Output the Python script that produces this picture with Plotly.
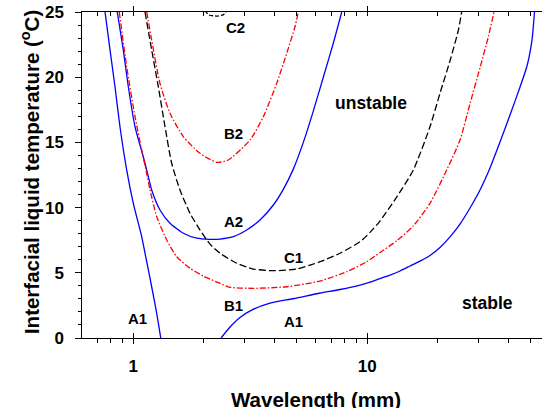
import numpy as np
import plotly.graph_objects as go

# ---------------- data (wavelength in mm, temperature in degC) ----------------
A1_left_x = [0.757, 0.795, 0.835, 0.877, 0.937, 1.0, 1.086, 1.122, 1.198, 1.259, 1.31]
A1_left_y = [25, 22.09, 19.27, 16.2, 12.88, 10.33, 7.77, 6.5, 3.93, 1.89, 0]

A1_right_x = [2.371, 2.59, 2.858, 3.247, 3.839, 4.862, 6.281, 7.643, 9.307, 10.27, 11.33, 12.50,
              13.79, 15.22, 16.80, 18.53, 20.45, 22.56, 24.90, 27.48, 30.31, 33.45, 36.91,
              40.73, 44.95, 48.14, 50.56, 51.83]
A1_right_y = [0, 0.84, 1.57, 2.19, 2.68, 3.03, 3.45, 3.72, 4.06, 4.29, 4.56, 4.83,
              5.14, 5.52, 5.90, 6.33, 6.94, 7.75, 8.74, 9.97, 11.35, 13.04, 15.03,
              17.10, 19.25, 20.86, 22.85, 25]

A2_x = [0.854, 0.906, 0.952, 1.017, 1.103, 1.141, 1.198, 1.300, 1.435, 1.636, 1.866, 2.127,
        2.347, 2.676, 3.052, 3.479, 3.967, 4.376, 4.828, 5.328, 5.877, 6.486, 7.155, 7.775]
A2_y = [25, 22.09, 19.27, 16.2, 13.9, 12.88, 11.35, 9.82, 8.80, 8.03, 7.65, 7.57,
        7.59, 7.77, 8.28, 9.05, 10.2, 11.4, 12.95, 15.0, 17.4, 20.0, 22.6, 25]

B1_x = [0.871, 0.937, 1.017, 1.086, 1.133, 1.179, 1.259, 1.389, 1.533, 1.747, 1.991, 2.347,
        2.590, 3.257, 4.524, 6.28, 8.17, 9.94, 11.33, 13.35, 15.73, 18.53, 21.84, 24.9,
        27.5, 30.3, 32.9, 34.8]
B1_y = [25, 20.8, 16.97, 14.42, 12.88, 11.35, 9.30, 7.52, 6.23, 5.35, 4.75, 4.19,
        3.89, 3.81, 3.93, 4.37, 5.08, 5.85, 6.55, 7.45, 8.6, 10.33, 12.88, 15.18,
        18.0, 20.7, 23.1, 25]

B2_x = [1.141, 1.198, 1.300, 1.435, 1.636, 1.928, 2.272, 2.547, 3.153, 3.594, 4.101, 4.524, 4.909, 5.07]
B2_y = [25, 22.85, 19.53, 17.23, 15.44, 14.16, 13.47, 13.65, 15.18, 16.97, 19.53, 21.83, 23.87, 25]

C1_x = [1.122, 1.198, 1.279, 1.366, 1.459, 1.583, 1.747, 1.928, 2.127, 2.347, 2.766, 3.257,
        3.967, 4.993, 6.28, 7.64, 9.31, 10.27, 11.33, 13.35, 15.73, 18.53, 20.45, 22.6, 24.5, 25.3]
C1_y = [25, 22.09, 19.27, 16.2, 13.4, 11.35, 9.56, 8.28, 7.2, 6.50, 5.73, 5.29,
        5.16, 5.29, 5.85, 6.50, 7.38, 8.1, 8.97, 10.81, 12.88, 16.2, 18.77, 21.3, 23.6, 25]

C2_x = [2.025, 2.10, 2.27, 2.42, 2.51]
C2_y = [25.1, 24.78, 24.69, 24.78, 25.1]

label_text = ["C2", "B2", "A2", "C1", "B1", "A1", "A1"]
label_x = [2.72, 2.69, 2.69, 4.86, 2.69, 1.037, 4.86]
label_y = [23.8, 15.7, 8.9, 6.2, 2.53, 1.46, 1.23]

region_text = ["unstable", "stable"]
region_x = [10.37, 32.5]
region_y = [18.0, 2.68]

x_major = [1, 10]
x_major_text = ["1", "10"]
x_minor = [0.6, 0.7, 0.8, 0.9, 2, 3, 4, 5, 6, 7, 8, 9, 20, 30, 40, 50]
y_major = [0, 5, 10, 15, 20, 25]
x_range = [0.6035, 55.8]
y_range = [0, 25]

# ---------------- figure ----------------
FONT = "Liberation Sans, Arial, sans-serif"
BLUE = "#0000ff"
RED = "#ff0000"
BLACK = "#000000"

fig = go.Figure()

def add_line(x, y, color, dash):
    fig.add_trace(go.Scatter(x=x, y=y, mode="lines",
                             line=dict(color=color, width=1.3, dash=dash, shape="spline", smoothing=0.6),
                             showlegend=False, hoverinfo="skip"))

add_line(A1_left_x, A1_left_y, BLUE, "solid")
add_line(A1_right_x, A1_right_y, BLUE, "solid")
add_line(A2_x, A2_y, BLUE, "solid")
add_line(B1_x, B1_y, RED, "6px,2px,1.5px,2px")
add_line(B2_x, B2_y, RED, "6px,2px,1.5px,2px")
add_line(C1_x, C1_y, BLACK, "7px,3px")
add_line(C2_x, C2_y, BLACK, "4px,2px")

# dummy traces for overlay axes
for xa in ["x2", "x3", "x4"]:
    fig.add_trace(go.Scatter(x=[1], y=[-10], xaxis=xa, yaxis="y", mode="lines",
                             showlegend=False, hoverinfo="skip"))

lx = [np.log10(v) for v in x_range]

common_x = dict(type="log", range=lx, autorange=False, showgrid=False, zeroline=False,
                automargin=False, tickvals=x_major, ticktext=x_major_text)

fig.update_layout(
    width=542, height=408,
    margin=dict(l=82, r=0, t=12, b=70),
    paper_bgcolor="white", plot_bgcolor="white",
    font=dict(family=FONT, color="black"),
    xaxis=dict(**common_x, showline=True, linecolor="black", linewidth=1.2,
               ticks="outside", ticklen=5, tickwidth=1, tickcolor="black",
               tickfont=dict(family=FONT, size=17, weight="bold", color="black"),
               ticklabelstandoff=7,
               minor=dict(tickvals=x_minor, ticks="outside", ticklen=4, tickwidth=1, tickcolor="black")),
    xaxis3=dict(**common_x, overlaying="x", side="bottom", anchor="y", showline=False,
                ticks="inside", ticklen=5, tickwidth=1, tickcolor="black", showticklabels=False),
    xaxis2=dict(**common_x, overlaying="x", side="top", anchor="y", showline=True,
                linecolor="black", linewidth=1.2,
                ticks="inside", ticklen=4, tickwidth=1, tickcolor="black", showticklabels=False,
                minor=dict(tickvals=x_minor, ticks="inside", ticklen=3.5, tickwidth=1, tickcolor="black")),
    xaxis4=dict(**common_x, overlaying="x", side="top", anchor="y", showline=False,
                ticks="outside", ticklen=5, tickwidth=1, tickcolor="black", showticklabels=False),
    yaxis=dict(range=y_range, autorange=False, showgrid=False, zeroline=False, automargin=False,
               showline=True, linecolor="black", linewidth=1.2,
               tickvals=y_major, ticks="outside", ticklen=5.5, tickwidth=1, tickcolor="black",
               tickfont=dict(family=FONT, size=17, weight="bold", color="black"),
               ticklabelstandoff=8,
               minor=dict(dtick=1, ticks="outside", ticklen=2.7, tickwidth=1, tickcolor="black")),
)

for t, x, y in zip(label_text, label_x, label_y):
    fig.add_annotation(x=np.log10(x), y=y, text=t, showarrow=False, xref="x", yref="y",
                       font=dict(family=FONT, size=15, weight="bold", color="black"))
for t, x, y in zip(region_text, region_x, region_y):
    fig.add_annotation(x=np.log10(x), y=y, text=t, showarrow=False, xref="x", yref="y",
                       font=dict(family=FONT, size=17.5, weight="bold", color="black"))

fig.add_annotation(x=0.5087, y=-0.146, xref="paper", yref="paper", xanchor="center", yanchor="top",
                   text="Wavelength (mm)", showarrow=False,
                   font=dict(family=FONT, size=20.5, weight="bold", color="black"))
fig.add_annotation(x=-0.113, y=0.509, xref="paper", yref="paper", xanchor="center", yanchor="middle",
                   text="Interfacial liquid temperature (<sup>o</sup>C)", textangle=-90, showarrow=False,
                   font=dict(family=FONT, size=20.5, weight="bold", color="black"))

fig.write_html("out.html", config={"displayModeBar": False},
               post_script="document.body.style.margin='0';document.body.style.overflow='hidden';")
